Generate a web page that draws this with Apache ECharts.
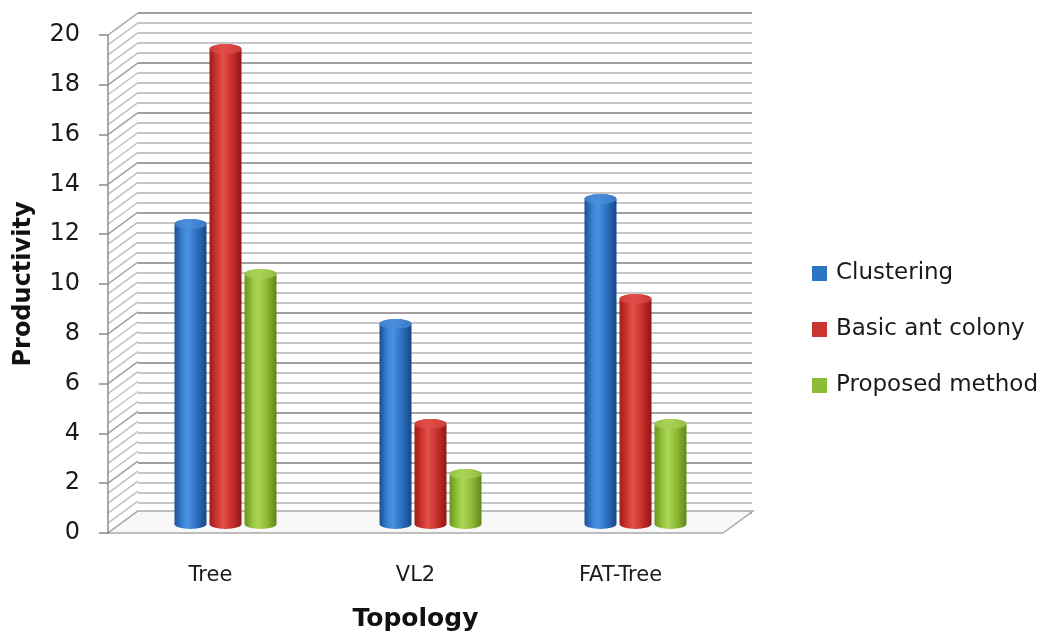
<!DOCTYPE html>
<html>
<head>
<meta charset="utf-8">
<style>
  html, body { margin: 0; padding: 0; background: #ffffff; }
  #chart { width: 1063px; height: 637px; }
</style>
<script src="https://cdn.jsdelivr.net/npm/echarts@6/dist/echarts.min.js"></script>
</head>
<body>
<div id="chart"></div>
<script>
// Productivity of three routing approaches per network topology
const categories = ['Tree', 'VL2', 'FAT-Tree'];
const clustering = [12, 8, 13];
const basicAntColony = [19, 4, 9];
const proposedMethod = [10, 2, 4];
const seriesNames = ['Clustering', 'Basic ant colony', 'Proposed method'];

// value axis range and wall grid spacing
const Y_MIN = 0, Y_MAX = 20, Y_STEP = 2, WALL_STEP = 0.4;

// pseudo-3D depth of the plot box
const DX = 30, DY = -22;
const BAR_W = 32, BAR_STEP = 35, CAP_RY = 5;

const palettes = [
  { base: '#2e74c4', stops: ['#1b4f93', '#3a82d4', '#4a92e0', '#2c6fbe', '#184886'], cap: '#4a8fdc' },
  { base: '#cc3430', stops: ['#9e1b19', '#d23832', '#e2524a', '#c8302b', '#8f1715'], cap: '#de4f48' },
  { base: '#8dbd38', stops: ['#6a931d', '#95c43e', '#acd758', '#8cba34', '#5f861a'], cap: '#a8d257' }
];

const chart = echarts.init(document.getElementById('chart'), null, { renderer: 'canvas' });

function cylinder(offsetIdx, pal) {
  return function (params, api) {
    const cat = api.value(0), val = api.value(1);
    const top = api.coord([cat, val]);
    const base = api.coord([cat, 0]);
    const cx = top[0] + offsetIdx * BAR_STEP;
    const x0 = cx - BAR_W / 2, x1 = cx + BAR_W / 2;
    const rx = BAR_W / 2, ry = CAP_RY;
    const yt = top[1], yb = base[1];
    const grad = new echarts.graphic.LinearGradient(0, 0, 1, 0, [
      { offset: 0, color: pal.stops[0] },
      { offset: 0.25, color: pal.stops[1] },
      { offset: 0.42, color: pal.stops[2] },
      { offset: 0.7, color: pal.stops[3] },
      { offset: 1, color: pal.stops[4] }
    ]);
    const body = 'M' + x0 + ',' + yt +
      ' A' + rx + ',' + ry + ' 0 0 1 ' + x1 + ',' + yt +
      ' L' + x1 + ',' + yb +
      ' A' + rx + ',' + ry + ' 0 0 1 ' + x0 + ',' + yb + ' Z';
    const cap = 'M' + x0 + ',' + yt +
      ' A' + rx + ',' + ry + ' 0 1 1 ' + x1 + ',' + yt +
      ' A' + rx + ',' + ry + ' 0 1 1 ' + x0 + ',' + yt + ' Z';
    return {
      type: 'group',
      children: [
        { type: 'path', shape: { pathData: body }, style: { fill: grad } },
        { type: 'path', shape: { pathData: cap }, style: { fill: pal.cap, opacity: 0.7 } }
      ]
    };
  };
}

// side wall diagonals and the floor slab of the plot box
function box(params, api) {
  const cs = params.coordSys;
  const children = [];
  const left = cs.x, right = cs.x + cs.width, bottom = cs.y + cs.height, topY = cs.y;
  children.push({
    type: 'polygon',
    shape: { points: [[left, bottom], [left, topY], [left + DX, topY + DY], [left + DX, bottom + DY]] },
    style: { fill: '#ffffff', stroke: null }
  });
  for (let v = Y_MIN; v <= Y_MAX + 1e-9; v += WALL_STEP) {
    const y = api.coord([0, v])[1];
    const major = Math.abs(v / Y_STEP - Math.round(v / Y_STEP)) < 1e-6;
    children.push({
      type: 'line',
      shape: { x1: left, y1: y, x2: left + DX, y2: y + DY },
      style: { stroke: major ? '#a0a0a0' : '#c0c0c0', lineWidth: 1.5 }
    });
  }
  children.push({
    type: 'polygon',
    shape: { points: [[left, bottom], [right, bottom], [right + DX, bottom + DY], [left + DX, bottom + DY]] },
    style: { fill: '#f8f8f8', stroke: '#a9a9a9', lineWidth: 1.5 }
  });
  return { type: 'group', children: children };
}

const option = {
  backgroundColor: '#ffffff',
  animation: false,
  textStyle: { fontFamily: 'DejaVu Sans' },
  grid: [
    { left: 108, top: 35, width: 615, height: 500 },   // front plane: axes and floor
    { left: 138, top: 13, width: 614, height: 500 },   // back wall
    { left: 123, top: 24, width: 615, height: 500 }    // mid depth: bars
  ],
  xAxis: [
    {
      gridIndex: 0, type: 'category', data: categories,
      axisLine: { show: false }, axisTick: { show: false },
      axisLabel: { fontSize: 21, color: '#1a1a1a', margin: 32 },
      name: 'Topology', nameLocation: 'middle', nameGap: 74,
      nameTextStyle: { fontSize: 25, fontWeight: 'bold', color: '#111' }
    },
    { gridIndex: 1, type: 'value', min: 0, max: 1, show: false },
    { gridIndex: 2, type: 'category', data: categories, show: false }
  ],
  yAxis: [
    {
      gridIndex: 0, type: 'value', min: Y_MIN, max: Y_MAX, interval: Y_STEP,
      axisLine: { show: true, lineStyle: { color: '#8c8c8c', width: 1.5 } },
      axisTick: { show: true, length: 9, lineStyle: { color: '#8c8c8c', width: 1.5 } },
      axisLabel: { fontSize: 24, color: '#1a1a1a', margin: 28, padding: [6, 0, 0, 0] },
      splitLine: { show: false },
      name: 'Productivity', nameLocation: 'middle', nameGap: 72, nameRotate: 90,
      nameTextStyle: { fontSize: 24, fontWeight: 'bold', color: '#111' },
      z: 5
    },
    {
      gridIndex: 1, type: 'value', min: Y_MIN, max: Y_MAX, interval: WALL_STEP,
      axisLine: { show: false }, axisTick: { show: false }, axisLabel: { show: false },
      splitLine: { show: true, lineStyle: { color: '#c6c6c6', width: 2 } }
    },
    {
      gridIndex: 1, type: 'value', min: Y_MIN, max: Y_MAX, interval: Y_STEP,
      axisLine: { show: false }, axisTick: { show: false }, axisLabel: { show: false },
      splitLine: { show: true, lineStyle: { color: '#a0a0a0', width: 2 } }
    },
    { gridIndex: 2, type: 'value', min: Y_MIN, max: Y_MAX, show: false }
  ],
  legend: {
    orient: 'vertical', left: 807, top: 257, itemGap: 33,
    itemWidth: 15, itemHeight: 15, icon: 'rect',
    textStyle: { fontSize: 23, color: '#1a1a1a', lineHeight: 23, padding: [0, 0, 0, 4] },
    data: seriesNames
  },
  series: [
    {
      type: 'custom', xAxisIndex: 0, yAxisIndex: 0, clip: false, silent: true, z: 1,
      renderItem: box, data: [[0, 0]]
    },
    {
      name: seriesNames[0], type: 'custom', xAxisIndex: 2, yAxisIndex: 3, z: 3,
      itemStyle: { color: palettes[0].base },
      renderItem: cylinder(-1, palettes[0]),
      data: clustering.map((v, i) => [i, v])
    },
    {
      name: seriesNames[1], type: 'custom', xAxisIndex: 2, yAxisIndex: 3, z: 3,
      itemStyle: { color: palettes[1].base },
      renderItem: cylinder(0, palettes[1]),
      data: basicAntColony.map((v, i) => [i, v])
    },
    {
      name: seriesNames[2], type: 'custom', xAxisIndex: 2, yAxisIndex: 3, z: 3,
      itemStyle: { color: palettes[2].base },
      renderItem: cylinder(1, palettes[2]),
      data: proposedMethod.map((v, i) => [i, v])
    }
  ]
};

chart.setOption(option);
</script>
</body>
</html>
